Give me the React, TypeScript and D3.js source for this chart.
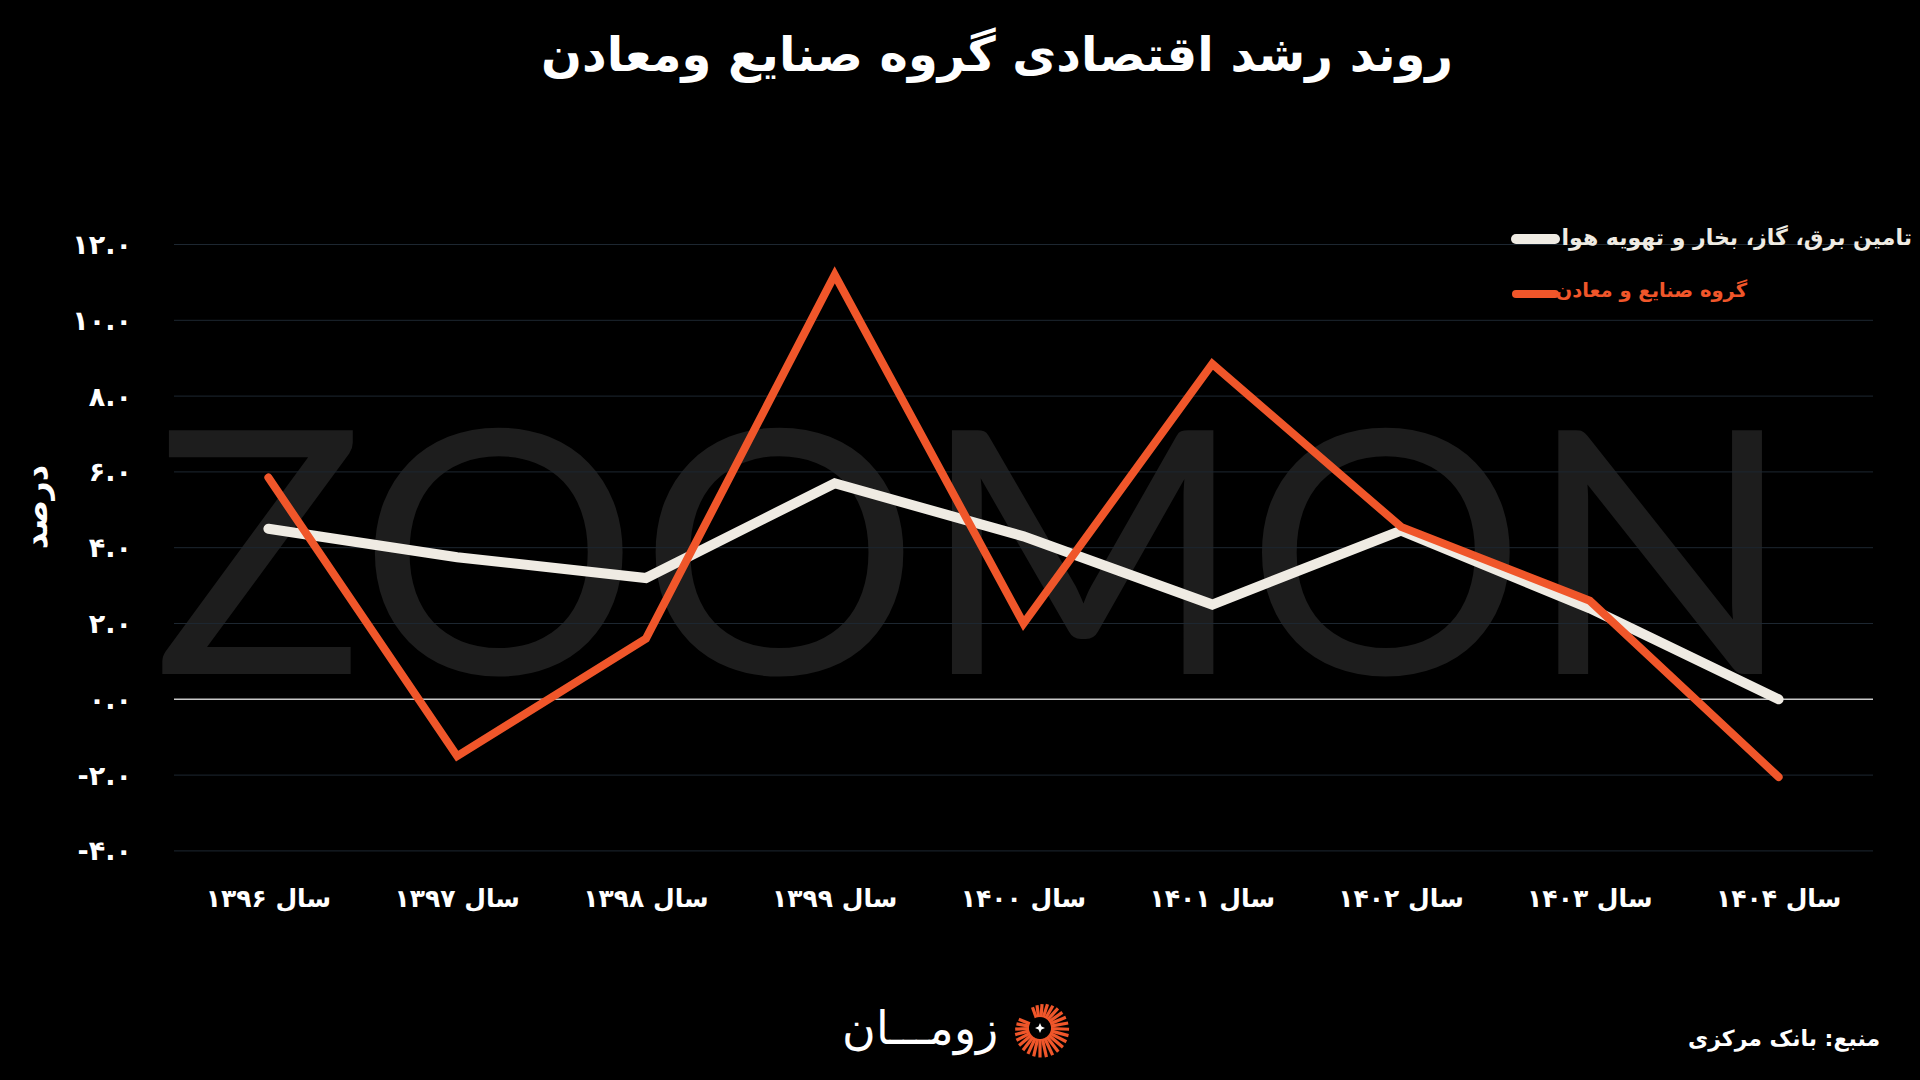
import React from 'react';
import * as d3 from 'd3';

const categories = ['سال ۱۳۹۶', 'سال ۱۳۹۷', 'سال ۱۳۹۸', 'سال ۱۳۹۹', 'سال ۱۴۰۰', 'سال ۱۴۰۱', 'سال ۱۴۰۲', 'سال ۱۴۰۳', 'سال ۱۴۰۴'];
const energySeries = [4.5, 3.75, 3.2, 5.7, 4.3, 2.5, 4.45, 2.4, 0.0];
const industrySeries = [5.85, -1.5, 1.6, 11.2, 2.0, 8.85, 4.55, 2.6, -2.05];
const yTicks = [-4, -2, 0, 2, 4, 6, 8, 10, 12];
const seriesNames = ['تامین برق، گاز، بخار و تهویه هوا', 'گروه صنایع و معادن'];
const seriesColors = ['#efebe3', '#f0562a'];
const titleText = 'روند رشد اقتصادی گروه صنایع ومعادن';
const yTitleText = 'درصد';
const sourceText = 'منبع: بانک مرکزی';
const brandText = 'زومـــان';
const watermarkText = 'ZOOMON';

const FA = "'DejaVu Sans', sans-serif";
const faDigits = (s: string) => s.replace(/\d/g, (d) => '۰۱۲۳۴۵۶۷۸۹'[+d]).replace('\u2212', '-');

export default function App() {
  const W = 1920, H = 1080;
  const x = d3.scalePoint<string>().domain(categories).range([174, 1873]).padding(0.5);
  const y = d3.scaleLinear().domain([-4, 12]).range([850.9, 244.5]);
  const fmt = d3.format('.1f');
  const line = d3.line<number>().x((_, i) => x(categories[i]) as number).y((v) => y(v));

  // logo rays
  const cx = 1040, cy = 1028;
  const rays = d3.range(26).map((i) => {
    const a = (-110 + i * 12.5) * Math.PI / 180;
    const r0 = 11;
    const r1 = 22 + 8 * Math.sin((i / 26) * Math.PI);
    return { x1: cx + r0 * Math.cos(a), y1: cy + r0 * Math.sin(a), x2: cx + r1 * Math.cos(a), y2: cy + r1 * Math.sin(a) };
  });

  return (
    <svg width={W} height={H} style={{ position: 'absolute', left: 0, top: 0, background: '#000' }}>
      <rect x={0} y={0} width={W} height={H} fill="#000" />
      <text x={153} y={674} fontFamily="Lato, 'Open Sans', sans-serif" fontWeight={400} fontSize={340}
        fill="#1d1d1d" textLength={1641} lengthAdjust="spacingAndGlyphs">{watermarkText}</text>

      <text x={997} y={71} textAnchor="middle" fontFamily={FA} fontWeight="bold" fontSize={48} fill="#fff">{titleText}</text>

      {yTicks.map((t) => (
        <g key={t}>
          <line x1={174} x2={1873} y1={y(t)} y2={y(t)} stroke={t === 0 ? '#c8c8c8' : '#1d2731'} strokeWidth={t === 0 ? 1.5 : 1} />
          <text x={132} y={y(t)} dy="0.35em" textAnchor="end" fontFamily={FA} fontWeight="bold" fontSize={27} fill="#fff">{faDigits(fmt(t))}</text>
        </g>
      ))}

      <text transform={`translate(47,507) rotate(-90)`} textAnchor="middle" fontFamily={FA} fontWeight="bold" fontSize={32} fill="#fff">{yTitleText}</text>

      {categories.map((c) => (
        <text key={c} x={x(c)} y={907} textAnchor="middle" fontFamily={FA} fontWeight="bold" fontSize={25} fill="#fff">{c}</text>
      ))}

      <path d={line(energySeries) || ''} fill="none" stroke={seriesColors[0]} strokeWidth={10} strokeLinecap="round" strokeLinejoin="miter" />
      <path d={line(industrySeries) || ''} fill="none" stroke={seriesColors[1]} strokeWidth={8} strokeLinecap="round" strokeLinejoin="miter" />

      {/* legend */}
      <line x1={1516} x2={1555} y1={239} y2={239} stroke={seriesColors[0]} strokeWidth={10} strokeLinecap="round" />
      <text x={1912} y={245} textAnchor="end" fontFamily={FA} fontWeight="bold" fontSize={22} fill={seriesColors[0]}>{seriesNames[0]}</text>
      <line x1={1516} x2={1555} y1={294} y2={294} stroke={seriesColors[1]} strokeWidth={8} strokeLinecap="round" />
      <text x={1747} y={297} textAnchor="end" fontFamily={FA} fontWeight="bold" fontSize={19.5} fill={seriesColors[1]}>{seriesNames[1]}</text>

      {/* brand */}
      {rays.map((r, i) => (
        <line key={i} x1={r.x1} y1={r.y1} x2={r.x2} y2={r.y2} stroke="#f0562a" strokeWidth={3.2} />
      ))}
      <path d={`M${cx},${cy - 5} L${cx + 1.5},${cy - 1.5} L${cx + 5},${cy} L${cx + 1.5},${cy + 1.5} L${cx},${cy + 5} L${cx - 1.5},${cy + 1.5} L${cx - 5},${cy} L${cx - 1.5},${cy - 1.5} Z`} fill="#fff" />
      <text x={998} y={1044} textAnchor="end" fontFamily={FA} fontWeight={200} fontSize={46} fill="#fff">{brandText}</text>

      <text x={1880} y={1046} textAnchor="end" fontFamily={FA} fontWeight="bold" fontSize={22} fill="#fff">{sourceText}</text>
    </svg>
  );
}
